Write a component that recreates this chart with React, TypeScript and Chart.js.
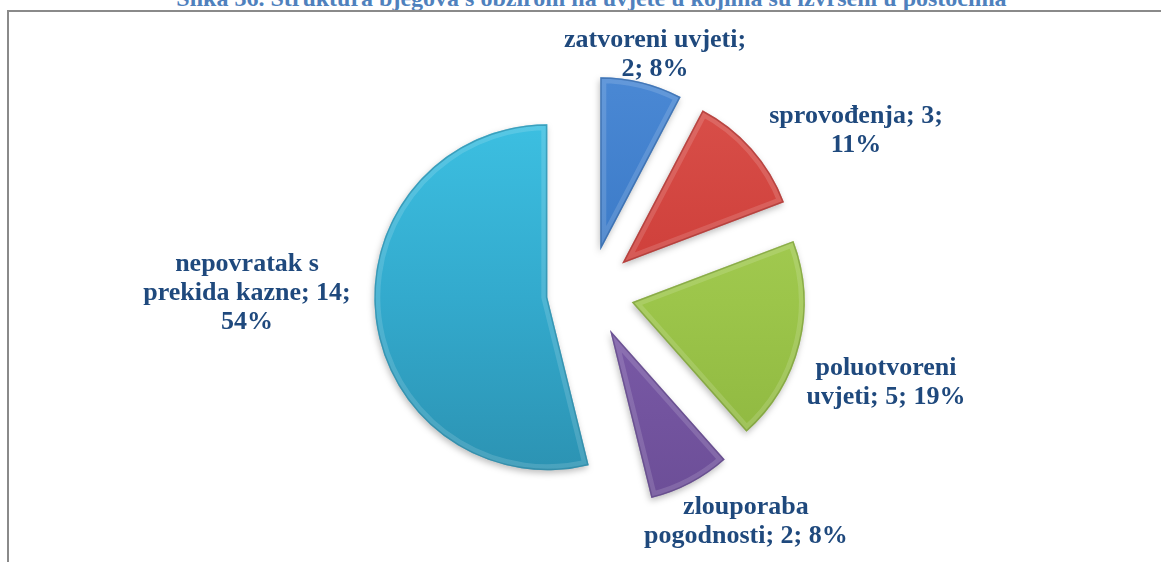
import React, { useEffect, useRef } from "react";
import { Chart, registerables } from "chart.js";

Chart.register(...registerables);

const TITLE = "Slika 36. Struktura bjegova s obzirom na uvjete u kojima su izvršeni u postocima";
const CATEGORIES = [
  "zatvoreni uvjeti",
  "sprovođenja",
  "poluotvoreni uvjeti",
  "zlouporaba pogodnosti",
  "nepovratak s prekida kazne",
];
const VALUES = [2, 3, 5, 2, 14];
const PERCENTS = [8, 11, 19, 8, 54];

const COLOR_LIGHT = ["#4a88d4", "#d9504a", "#a8cf58", "#8465b0", "#3cbfe1"];
const COLOR_BASE = ["#3c7bc8", "#cf403b", "#9cc54a", "#7959a6", "#33aacd"];
const COLOR_DARK = ["#3470b8", "#bb3835", "#8db63f", "#6c4e97", "#2c93b3"];
const COLOR_EDGE = ["#2a5c9a", "#9a2c29", "#6f8f31", "#533c7c", "#257f9c"];

// layout (not data)
const RADIUS = 173;
const EXPLODE = 43;
const LABEL_ANGLE = [15.2, 58.5, 106.7, 145.6, 270.2];
const LABEL_DIST = [248, 312, 309, 276, 343];
const LABEL_MAXW = [200, 200, 200, 215, 215];
const LABEL_FONT = 'bold 26px "Liberation Serif", "Times New Roman", serif';
const LABEL_COLOR = "#1f497d";
const LINE_H = 29;

function sliceAngles(i: number) {
  const total = VALUES.reduce((a, b) => a + b, 0);
  let start = -Math.PI / 2;
  for (let k = 0; k < i; k++) start += (VALUES[k] / total) * Math.PI * 2;
  const end = start + (VALUES[i] / total) * Math.PI * 2;
  return { start, end, mid: (start + end) / 2 };
}

function apexFor(chart: any, i: number) {
  const a = chart.chartArea;
  const cx = (a.left + a.right) / 2;
  const cy = (a.top + a.bottom) / 2;
  const { mid } = sliceAngles(i);
  return { x: cx + Math.cos(mid) * EXPLODE, y: cy + Math.sin(mid) * EXPLODE, cx, cy };
}

const explodePlugin = {
  id: "explode",
  beforeDatasetsDraw(chart: any) {
    const meta = chart.getDatasetMeta(0);
    meta.data.forEach((arc: any, i: number) => {
      const p = apexFor(chart, i);
      arc.x = p.x;
      arc.y = p.y;
    });
    const ctx = chart.ctx;
    ctx.save();
    ctx.shadowColor = "rgba(0,0,0,0.25)";
    ctx.shadowBlur = 6;
    ctx.shadowOffsetX = -1;
    ctx.shadowOffsetY = 3;
  },
  afterDatasetsDraw(chart: any) {
    const ctx = chart.ctx;
    ctx.restore();
    const meta = chart.getDatasetMeta(0);
    meta.data.forEach((arc: any, i: number) => {
      const r = arc.outerRadius;
      ctx.save();
      ctx.beginPath();
      ctx.moveTo(arc.x, arc.y);
      ctx.arc(arc.x, arc.y, r, arc.startAngle, arc.endAngle);
      ctx.closePath();
      ctx.clip();
      ctx.lineJoin = "round";
      ctx.lineWidth = 12;
      ctx.strokeStyle = "rgba(255,255,255,0.14)";
      ctx.stroke();
      ctx.lineWidth = 3;
      ctx.strokeStyle = COLOR_EDGE[i];
      ctx.globalAlpha = 0.55;
      ctx.stroke();
      ctx.restore();
    });
  },
};

function wrap(ctx: CanvasRenderingContext2D, text: string, maxW: number) {
  const words = text.split(" ");
  const lines: string[] = [];
  let cur = "";
  for (const w of words) {
    const t = cur ? cur + " " + w : w;
    if (cur && ctx.measureText(t).width > maxW) {
      lines.push(cur);
      cur = w;
    } else cur = t;
  }
  if (cur) lines.push(cur);
  return lines;
}

const labelPlugin = {
  id: "sliceLabels",
  afterDraw(chart: any) {
    const ctx = chart.ctx as CanvasRenderingContext2D;
    const a = chart.chartArea;
    const cx = (a.left + a.right) / 2;
    const cy = (a.top + a.bottom) / 2;
    ctx.save();
    ctx.font = LABEL_FONT;
    ctx.fillStyle = LABEL_COLOR;
    ctx.textAlign = "center";
    ctx.textBaseline = "alphabetic";
    CATEGORIES.forEach((name, i) => {
      const text = `${name}; ${VALUES[i]}; ${PERCENTS[i]}%`;
      const lines = wrap(ctx, text, LABEL_MAXW[i]);
      const ang = (LABEL_ANGLE[i] * Math.PI) / 180;
      const ax = cx + Math.sin(ang) * LABEL_DIST[i];
      const ay = cy - Math.cos(ang) * LABEL_DIST[i];
      const n = lines.length;
      lines.forEach((ln, k) => {
        ctx.fillText(ln, ax, ay + (k - (n - 1) / 2) * LINE_H + 9);
      });
    });
    ctx.restore();
  },
};

export default function App() {
  const ref = useRef<HTMLCanvasElement>(null);
  useEffect(() => {
    if (!ref.current) return;
    const chart = new Chart(ref.current, {
      type: "pie",
      data: {
        labels: CATEGORIES,
        datasets: [
          {
            data: VALUES,
            borderWidth: 0,
            backgroundColor: (c: any) => {
              const chart = c.chart;
              const i = c.dataIndex;
              if (!chart.chartArea || i === undefined) return COLOR_BASE[i ?? 0];
              const p = apexFor(chart, i);
              const g = chart.ctx.createLinearGradient(0, p.y - RADIUS, 0, p.y + RADIUS);
              g.addColorStop(0, COLOR_LIGHT[i]);
              g.addColorStop(0.5, COLOR_BASE[i]);
              g.addColorStop(1, COLOR_DARK[i]);
              return g;
            },
          },
        ],
      },
      options: {
        responsive: false,
        animation: false,
        radius: RADIUS,
        layout: { padding: { left: 19, top: 22, right: 0, bottom: 0 } },
        plugins: {
          legend: { display: false },
          tooltip: { enabled: false },
          title: { display: false },
        },
        events: [],
      } as any,
      plugins: [explodePlugin, labelPlugin],
    });
    return () => chart.destroy();
  }, []);

  return (
    <div
      style={{
        position: "absolute",
        left: 0,
        top: 0,
        width: 1161,
        height: 562,
        overflow: "hidden",
        background: "#ffffff",
      }}
    >
      <div
        style={{
          position: "absolute",
          left: 0,
          top: -14,
          width: 1183,
          textAlign: "center",
          font: 'bold 24px/24px "Liberation Serif", "Times New Roman", serif',
          color: "#4f81bd",
          whiteSpace: "nowrap",
        }}
      >
        {TITLE}
      </div>
      <div
        style={{
          position: "absolute",
          left: 7,
          top: 10,
          width: 1300,
          height: 700,
          borderTop: "2px solid #8a8a8a",
          borderLeft: "2px solid #8a8a8a",
          boxSizing: "border-box",
        }}
      />
      <canvas
        ref={ref}
        width={1161}
        height={562}
        style={{ position: "absolute", left: 0, top: 0, width: 1161, height: 562 }}
      />
    </div>
  );
}
